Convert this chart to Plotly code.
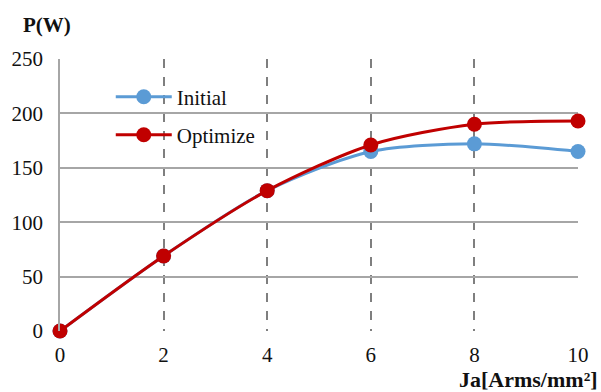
import plotly.graph_objects as go

# Current density Ja [Arms/mm²] and output power P [W]
ja = [0, 2, 4, 6, 8, 10]
p_initial = [0, 69, 129, 165, 172, 165]
p_optimize = [0, 69, 129, 171, 190, 193]
x_ticks = [0, 2, 4, 6, 8, 10]
y_ticks = [0, 50, 100, 150, 200, 250]

SERIF = "Liberation Serif"
FS = 21

fig = go.Figure()
fig.add_trace(go.Scatter(
    x=ja, y=p_initial, name="Initial", mode="lines+markers",
    line=dict(color="#5B9BD5", width=3, shape="spline", smoothing=0.8),
    marker=dict(size=15, color="#5B9BD5"),
    cliponaxis=False, legend="legend", showlegend=True,
))
fig.add_trace(go.Scatter(
    x=ja, y=p_optimize, name="Optimize", mode="lines+markers",
    line=dict(color="#C00000", width=3, shape="spline", smoothing=0.8),
    marker=dict(size=15, color="#C00000"),
    cliponaxis=False, legend="legend2", showlegend=True,
))

legend_style = dict(
    font=dict(family=SERIF, size=FS, color="#111111"),
    bgcolor="rgba(0,0,0,0)", xanchor="left", yanchor="middle",
    itemwidth=56, visible=True,
)

fig.update_layout(
    width=601, height=392,
    margin=dict(l=59, r=12, t=59, b=61),
    paper_bgcolor="white", plot_bgcolor="white",
    showlegend=True,
    font=dict(family=SERIF, size=FS, color="#111111"),
    legend=dict(x=0.098, y=0.86, **legend_style),
    legend2=dict(x=0.098, y=0.72, **legend_style),
    xaxis=dict(
        range=[0, 10], tickvals=x_ticks, ticks="", showline=False,
        showgrid=True, gridcolor="#7F7F7F", griddash="dash", gridwidth=2,
        zeroline=False, ticklabelstandoff=9,
        tickfont=dict(family=SERIF, size=FS, color="#111111"),
    ),
    yaxis=dict(
        range=[0, 250], tickvals=y_ticks, ticks="", showline=True,
        linecolor="#A6A6A6", linewidth=1.5,
        showgrid=True, gridcolor="#A6A6A6", gridwidth=1.5,
        zeroline=False, ticklabelstandoff=11,
        tickfont=dict(family=SERIF, size=FS, color="#111111"),
    ),
    annotations=[
        dict(text="<b>P(W)</b>", xref="paper", yref="paper", x=-0.075, y=1.125,
             xanchor="left", yanchor="middle", showarrow=False,
             font=dict(family=SERIF, size=21, color="#111111")),
        dict(text="<b>Ja[Arms/mm²]</b>", xref="paper", yref="paper", x=1.043, y=-0.18,
             xanchor="right", yanchor="middle", showarrow=False,
             font=dict(family=SERIF, size=22, color="#111111")),
    ],
)

fig.write_html("out.html")
